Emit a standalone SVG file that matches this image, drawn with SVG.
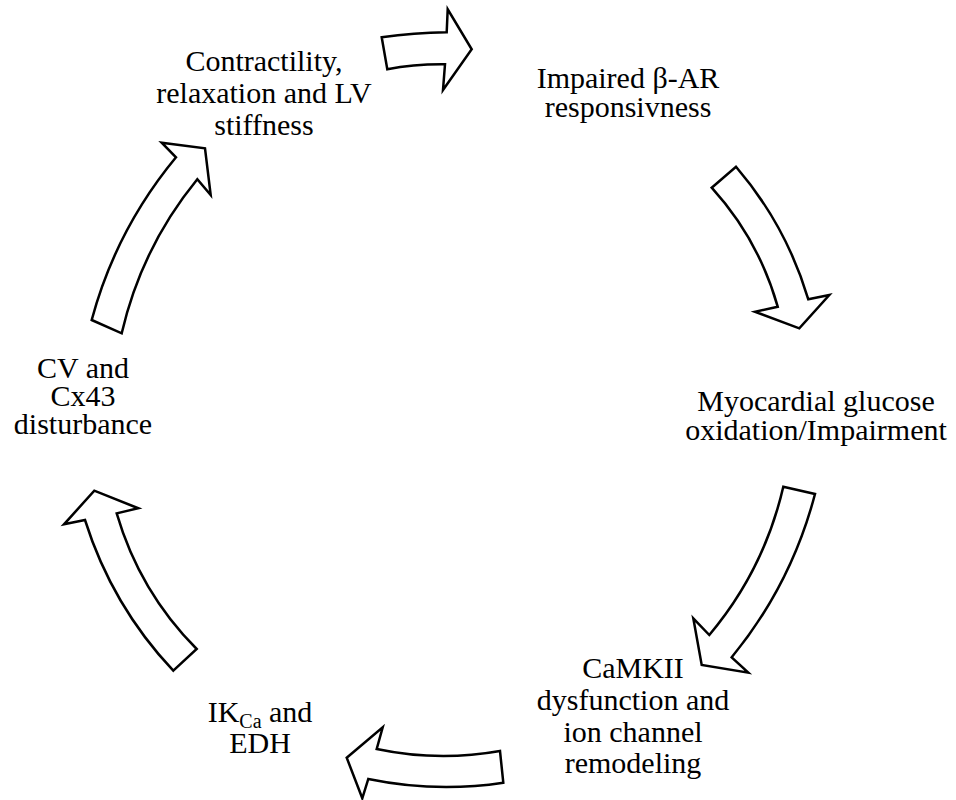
<svg xmlns="http://www.w3.org/2000/svg" width="956" height="800" viewBox="0 0 956 800">
<style>
.t{font-family:"Liberation Serif","Times New Roman",serif;font-size:30px;fill:#000;text-anchor:middle}
.a{fill:#fff;stroke:#000;stroke-width:2.5;stroke-linejoin:miter}
</style>
<rect width="956" height="800" fill="#fff"/>
<g id="connectors">
<path class="a" d="M381.7,37.3 Q414,33 446.7,32.3 L447.7,9.3 L471.7,49.3 L443,90 L445,64.3 Q414,64 387.3,69.3 Z"/>
<path class="a" d="M711.7,187.7 L736,166.7 Q786.2,225.3 808.3,299.3 L829.3,295 L799.3,328.3 L755,311.7 L777.7,306.7 Q758.7,239.5 711.7,187.7 Z"/>
<path class="a" d="M783.3,486.7 L815,494 Q791.2,584.8 731.7,657.3 L748.3,672.7 L701.7,665 L693.3,618.3 L709.3,635 Q764.1,570 783.3,486.7 Z"/>
<path class="a" d="M346.7,757.7 L382.7,727.3 L376.7,749 Q438,762 500,751 L503.3,782.7 Q436,793 368.3,779 L362.3,798.3 Z"/>
<path class="a" d="M173.3,670.7 L196.7,649 Q139.5,591.4 116.7,513.3 L138.3,508.3 L94.3,490.7 L64,524.3 L85,520 Q112,605.6 173.3,670.7 Z"/>
<path class="a" d="M91.7,320 L121.7,333.3 Q141.5,247.5 197.3,179.3 L210.7,195 L205,148.3 L161.7,142.7 L176,157.3 Q115.9,229.9 91.7,320 Z"/>
</g>
<g id="n1"><text class="t" x="264" y="71">Contractility,</text><text class="t" x="264" y="103">relaxation and LV</text><text class="t" x="264" y="135">stiffness</text></g>
<g id="n2"><text class="t" x="628" y="88">Impaired β-AR</text><text class="t" x="628" y="117">responsivness</text></g>
<g id="n3"><text class="t" x="816" y="411">Myocardial glucose</text><text class="t" x="816" y="440">oxidation/Impairment</text></g>
<g id="n4"><text class="t" x="633" y="678">CaMKII</text><text class="t" x="633" y="710">dysfunction and</text><text class="t" x="633" y="742">ion channel</text><text class="t" x="633" y="773">remodeling</text></g>
<g id="n5"><text class="t" x="260" y="722">IK<tspan font-size="20" dy="6">Ca</tspan><tspan dy="-6"> and</tspan></text><text class="t" x="260" y="753">EDH</text></g>
<g id="n6"><text class="t" x="83" y="378">CV and</text><text class="t" x="83" y="406">Cx43</text><text class="t" x="83" y="434">disturbance</text></g>
</svg>
